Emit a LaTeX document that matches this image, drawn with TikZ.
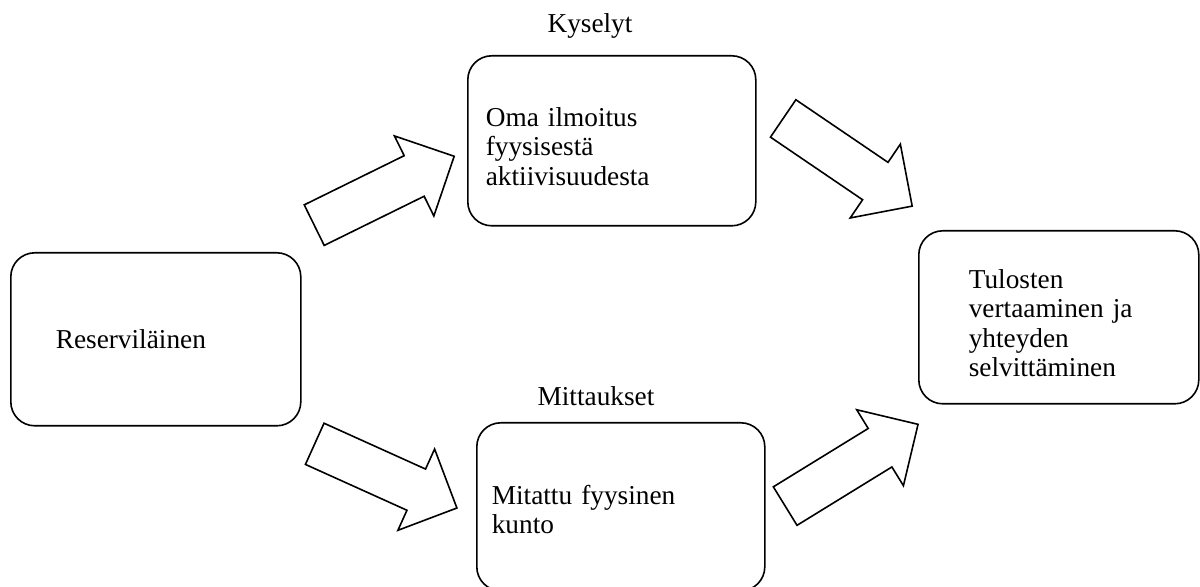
\documentclass[tikz,border=0pt]{standalone}
\usepackage{fontspec}
\setmainfont{Liberation Serif}
\usetikzlibrary{shapes.arrows}

\begin{document}
\begin{tikzpicture}[x=0.5pt,y=-0.5pt,
  box/.style={draw, line width=0.8pt, rounded corners=12pt, anchor=north west,
    align=left, inner ysep=0pt, font=\fontsize{13.65pt}{14.75pt}\selectfont},
  heading/.style={anchor=base, inner sep=0pt, font=\fontsize{13.65pt}{14.75pt}\selectfont},
  flowarrow/.style={single arrow, draw, line width=0.8pt, fill=white, inner xsep=0pt,
    inner ysep=10.9pt, minimum width=43.75pt, minimum height=78pt,
    single arrow head extend=11pt, anchor=tail}]
\useasboundingbox (0,0) rectangle (1200,587);
% boxes
\node[box, inner xsep=22.5pt, text width=100pt, minimum height=86.5pt] (res) at (10,252) {Reserviläinen};
\node[box, inner xsep=9pt, text width=126pt, minimum height=85pt, text height=15.3pt] (kysely) at (467,55)
  {Oma ilmoitus\\fyysisestä\\aktiivisuudesta};
\node[box, inner xsep=7.5pt, text width=129pt, minimum height=84pt, text height=12.3pt] (mittaus) at (476,422)
  {Mitattu fyysinen\\kunto};
\node[box, inner xsep=25pt, text width=90pt, minimum height=86.5pt, text height=15.3pt] (tulos) at (918,230)
  {Tulosten\\vertaaminen ja\\yhteyden\\selvittäminen};
% headings
\node[heading] (kyslbl) at (590,33) {Kyselyt};
\node[heading] (mitlbl) at (596,406) {Mittaukset};
% arrows
\node[flowarrow, rotate=26.2] (a1) at (313.5,225.5) {};
\node[flowarrow, rotate=-34.2] (a2) at (782.5,118) {};
\node[flowarrow, rotate=-24.3] (a3) at (314,443.5) {};
\node[flowarrow, rotate=31.6] (a4) at (784.5,506.5) {};
\end{tikzpicture}
\end{document}
